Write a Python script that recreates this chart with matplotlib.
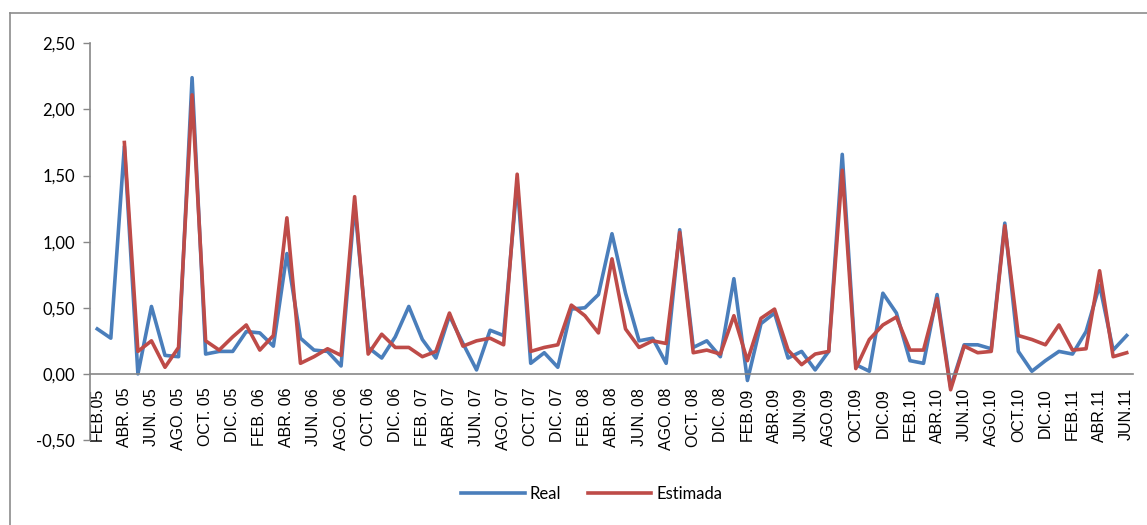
import numpy as np
import matplotlib
matplotlib.use("Agg")
import matplotlib.pyplot as plt
from matplotlib.lines import Line2D

# Monthly series, FEB 2005 .. JUN 2011
real = [0.34, 0.27, 1.72, 0.00, 0.51, 0.14, 0.13, 2.24, 0.15, 0.17,
        0.17, 0.32, 0.31, 0.21, 0.91, 0.27, 0.18, 0.17, 0.06, 1.28,
        0.20, 0.12, 0.28, 0.51, 0.26, 0.12, 0.44, 0.23, 0.03, 0.33,
        0.29, 1.45, 0.08, 0.16, 0.05, 0.49, 0.50, 0.60, 1.06, 0.61,
        0.25, 0.27, 0.08, 1.09, 0.20, 0.25, 0.13, 0.72, -0.05, 0.38,
        0.46, 0.12, 0.17, 0.03, 0.17, 1.66, 0.07, 0.02, 0.61, 0.46,
        0.10, 0.08, 0.60, -0.10, 0.22, 0.22, 0.19, 1.14, 0.17, 0.02,
        0.10, 0.17, 0.15, 0.32, 0.67, 0.18, 0.29]

estimada = [np.nan, np.nan, 1.75, 0.17, 0.25, 0.05, 0.20, 2.11, 0.25, 0.18,
            0.28, 0.37, 0.18, 0.29, 1.18, 0.08, 0.13, 0.19, 0.14, 1.34,
            0.15, 0.30, 0.20, 0.20, 0.13, 0.17, 0.46, 0.21, 0.25, 0.27,
            0.22, 1.51, 0.17, 0.20, 0.22, 0.52, 0.44, 0.31, 0.87, 0.34,
            0.20, 0.25, 0.23, 1.07, 0.16, 0.18, 0.15, 0.44, 0.10, 0.42,
            0.49, 0.18, 0.07, 0.15, 0.17, 1.54, 0.04, 0.26, 0.37, 0.43,
            0.18, 0.18, 0.57, -0.12, 0.21, 0.16, 0.17, 1.12, 0.29, 0.26,
            0.22, 0.37, 0.18, 0.19, 0.78, 0.13, 0.16]

tick_labels = ["FEB.05", "ABR. 05", "JUN. 05", "AGO. 05", "OCT. 05", "DIC. 05",
               "FEB. 06", "ABR. 06", "JUN. 06", "AGO. 06", "OCT. 06", "DIC. 06",
               "FEB. 07", "ABR. 07", "JUN. 07", "AGO. 07", "OCT. 07", "DIC. 07",
               "FEB. 08", "ABR. 08", "JUN. 08", "AGO. 08", "OCT. 08", "DIC. 08",
               "FEB.09", "ABR.09", "JUN.09", "AGO.09", "OCT.09", "DIC.09",
               "FEB.10", "ABR.10", "JUN.10", "AGO.10", "OCT.10", "DIC.10",
               "FEB.11", "ABR.11", "JUN.11"]

x = np.arange(len(real))

fig = plt.figure(figsize=(11.47, 5.25), dpi=100)
ax = fig.add_axes([0.0789, 0.1619, 0.9093, 0.7556])

# category axis crosses at zero (set first: it resets the ticks)
ax.spines["bottom"].set_position(("data", 0))
ax.spines["top"].set_visible(False)
ax.spines["right"].set_visible(False)
for s in ("left", "bottom"):
    ax.spines[s].set_color("#878787")
    ax.spines[s].set_linewidth(1.2)

ax.plot(x, real, color="#4A7EBB", lw=2.6, label="Real", solid_joinstyle="round")
ax.plot(x, estimada, color="#BE4B48", lw=2.6, label="Estimada", solid_joinstyle="round")

ax.set_xlim(-0.5, len(real) - 0.5)
ax.set_ylim(-0.5, 2.5)
yt = np.arange(-0.5, 2.51, 0.5)
ax.set_yticks(yt)
ax.set_yticklabels([f"{v:.2f}".replace(".", ",") for v in yt],
                   fontsize=12, family="Lato")

ax.set_xticks(x[::2])
ax.set_xticklabels(tick_labels, rotation=90, fontsize=11.5,
                   family="Liberation Sans", va="top", ha="center")
ax.tick_params(axis="y", length=5, color="#878787", width=1.0, pad=6)
ax.tick_params(axis="x", length=0, pad=10)

fig.legend(loc="center", bbox_to_anchor=(0.516, 0.059), ncol=2, frameon=False,
           prop={"family": "Lato", "size": 12}, handlelength=3.8,
           columnspacing=1.6, handletextpad=0.3)

# chart area border
fig.add_artist(Line2D([10 / 1147, 10 / 1147], [0, 1 - 13 / 525],
                      color="#8c8c8c", lw=1.2, transform=fig.transFigure))
fig.add_artist(Line2D([10 / 1147, 1], [1 - 13 / 525, 1 - 13 / 525],
                      color="#8c8c8c", lw=1.2, transform=fig.transFigure))

fig.savefig("out.png", dpi=100)
